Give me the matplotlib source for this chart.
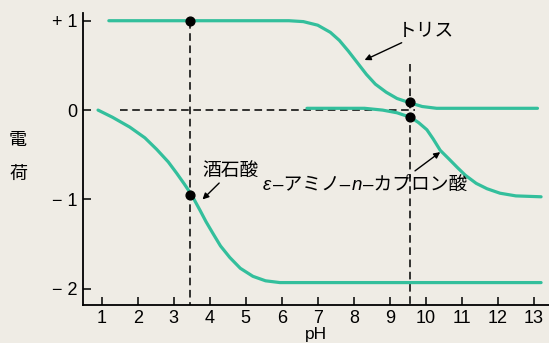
import matplotlib.pyplot as plt
from matplotlib.offsetbox import TextArea, HPacker, AnnotationBbox

plt.rcParams['font.family'] = ['Liberation Sans', 'Noto Sans CJK JP', 'DejaVu Sans']

# charge vs pH
tris_ph = [1.2, 3.45, 6.2, 6.6, 7.0, 7.35, 7.6, 7.85, 8.1, 8.35, 8.6, 8.9, 9.2, 9.57, 9.9, 10.3, 11.0, 12.0, 13.1]
tris_q = [1.0, 1.0, 1.0, 0.99, 0.95, 0.87, 0.78, 0.66, 0.53, 0.40, 0.29, 0.20, 0.13, 0.08, 0.04, 0.02, 0.02, 0.02, 0.02]

tart_ph = [0.9, 1.3, 1.78, 2.2, 2.53, 2.85, 3.09, 3.3, 3.5, 3.73, 3.9, 4.09, 4.3, 4.56, 4.85, 5.2, 5.55, 5.95, 7.0, 9.0, 11.0, 13.2]
tart_q = [0.0, -0.08, -0.19, -0.31, -0.44, -0.58, -0.71, -0.83, -0.95, -1.12, -1.25, -1.38, -1.52, -1.65, -1.77, -1.86, -1.91, -1.93, -1.93, -1.93, -1.93, -1.93]

eaca_ph = [6.7, 7.5, 8.3, 8.8, 9.2, 9.57, 9.8, 10.03, 10.2, 10.4, 10.65, 10.87, 11.1, 11.4, 11.7, 12.06, 12.5, 13.2]
eaca_q = [0.02, 0.02, 0.02, 0.0, -0.03, -0.08, -0.14, -0.22, -0.32, -0.45, -0.55, -0.64, -0.73, -0.82, -0.88, -0.93, -0.96, -0.97]

dot_ph = [3.45, 3.45, 9.57, 9.57]
dot_q = [1.0, -0.95, 0.09, -0.08]

xticks = list(range(1, 14))
yticks = [1, 0, -1, -2]
ytick_labels = ['+ 1', '0', '− 1', '− 2']

bg = '#efece5'
green = '#33bf9c'

fig = plt.figure(figsize=(5.49, 3.43), dpi=100, facecolor=bg)
ax = fig.add_axes([0.151, 0.111, 0.849, 0.851], facecolor=bg)

# guide lines
dash = dict(color='black', lw=1.1, ls=(0, (5, 3)))
ax.plot([3.45, 3.45], [1.0, -2.18], **dash)
ax.plot([9.57, 9.57], [0.52, -2.18], **dash)
ax.plot([1.5, 9.7], [0, 0], **dash)

for ph, q in [(tris_ph, tris_q), (tart_ph, tart_q), (eaca_ph, eaca_q)]:
    ax.plot(ph, q, color=green, lw=2.3, solid_capstyle='round', zorder=3)

ax.scatter(dot_ph, dot_q, s=40, color='black', zorder=4)

ax.set_xlim(0.48, 13.42)
ax.set_ylim(-2.18, 1.086)
ax.set_xticks(xticks)
ax.set_yticks(yticks)
ax.set_yticklabels(ytick_labels)
ax.tick_params(direction='in', length=6, width=1.1, labelsize=13, pad=4)
for s in ['top', 'right']:
    ax.spines[s].set_visible(False)
ax.spines['left'].set_linewidth(1.3)
ax.spines['bottom'].set_linewidth(1.3)

ax.set_xlabel('pH', fontsize=12.5, labelpad=0)
fig.text(0.033, 0.59, '電', fontsize=13, ha='center', va='center')
fig.text(0.033, 0.49, '荷', fontsize=13, ha='center', va='center')

arrow = dict(arrowstyle='-|>', color='black', lw=1, mutation_scale=9, shrinkA=0, shrinkB=0)
ax.annotate('トリス', xy=(8.3, 0.56), xytext=(9.22, 0.88), fontsize=13.5,
            ha='left', va='center', arrowprops=arrow)
ax.annotate('酒石酸', xy=(3.8, -1.0), xytext=(3.8, -0.69), fontsize=13.5,
            ha='left', va='center', arrowprops=dict(arrow))
ax.annotate('', xy=(10.4, -0.47), xytext=(9.7, -0.68), arrowprops=dict(arrow))

# ε-アミノ-n-カプロン酸 with italic ε and n
fs = 13.5
parts = [('ε', 'italic'), ('–アミノ–', 'normal'), ('n', 'italic'), ('–カプロン酸', 'normal')]
areas = [TextArea(t, textprops=dict(fontsize=fs, style=st)) for t, st in parts]
box = HPacker(children=areas, pad=0, sep=1, align='baseline')
ab = AnnotationBbox(box, (5.48, -0.84), xycoords='data', box_alignment=(0, 0.5),
                    frameon=False, pad=0)
ax.add_artist(ab)

fig.savefig('out.png', dpi=100, facecolor=bg)
